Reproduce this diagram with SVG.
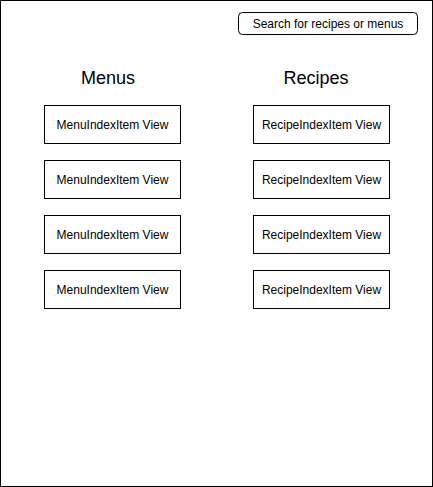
<svg xmlns="http://www.w3.org/2000/svg" width="433" height="487" viewBox="0 0 433 487">
<style>
.box{fill:#fff;stroke:#000;stroke-width:1}
.t{font-family:"Liberation Sans",Arial,sans-serif;font-size:12px;fill:#000;text-anchor:middle;dominant-baseline:central}
.h{font-family:"Liberation Sans",Arial,sans-serif;font-size:18px;fill:#000;text-anchor:middle;dominant-baseline:central}
</style>
<rect x="0.5" y="0.5" width="432" height="486" fill="#fff" stroke="#000" stroke-width="1"/>
<g id="search"><rect class="box" x="238.5" y="12.5" width="179" height="22" rx="4"/><text class="t" x="328" y="23.5">Search for recipes or menus</text></g>
<g id="menus-title"><text class="h" x="108" y="78">Menus</text></g>
<g id="recipes-title"><text class="h" x="316" y="78">Recipes</text></g>
<g id="menu1"><rect class="box" x="44.5" y="105.5" width="136" height="38"/><text class="t" x="112.5" y="124.5">MenuIndexItem View</text></g>
<g id="menu2"><rect class="box" x="44.5" y="160.5" width="136" height="38"/><text class="t" x="112.5" y="179.5">MenuIndexItem View</text></g>
<g id="menu3"><rect class="box" x="44.5" y="215.5" width="136" height="38"/><text class="t" x="112.5" y="234.5">MenuIndexItem View</text></g>
<g id="menu4"><rect class="box" x="44.5" y="270.5" width="136" height="38"/><text class="t" x="112.5" y="289.5">MenuIndexItem View</text></g>
<g id="recipe1"><rect class="box" x="253.5" y="105.5" width="136" height="38"/><text class="t" x="321.5" y="124.5">RecipeIndexItem View</text></g>
<g id="recipe2"><rect class="box" x="253.5" y="160.5" width="136" height="38"/><text class="t" x="321.5" y="179.5">RecipeIndexItem View</text></g>
<g id="recipe3"><rect class="box" x="253.5" y="215.5" width="136" height="38"/><text class="t" x="321.5" y="234.5">RecipeIndexItem View</text></g>
<g id="recipe4"><rect class="box" x="253.5" y="270.5" width="136" height="38"/><text class="t" x="321.5" y="289.5">RecipeIndexItem View</text></g>
<g id="connectors"></g>
</svg>
